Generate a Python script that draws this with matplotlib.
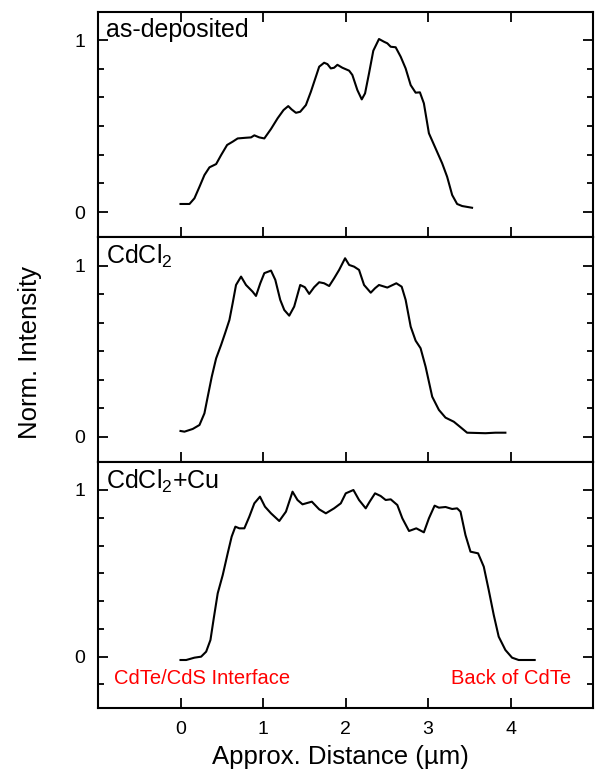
import matplotlib
matplotlib.use("Agg")
import matplotlib.pyplot as plt
from matplotlib.ticker import MultipleLocator, FixedLocator

plt.rcParams['font.family'] = ['Liberation Sans', 'DejaVu Sans']
plt.rcParams['mathtext.fontset'] = 'custom'
plt.rcParams['mathtext.rm'] = 'Liberation Sans'
plt.rcParams['mathtext.it'] = 'Liberation Sans'

# as-deposited profile
x_asdep = [0.000, 0.109, 0.169, 0.230, 0.290, 0.351, 0.432, 0.492, 0.565, 0.632,
           0.693, 0.794, 0.855, 0.895, 0.955, 1.016, 1.097, 1.177, 1.249, 1.306,
           1.346, 1.399, 1.451, 1.520, 1.580, 1.641, 1.681, 1.741, 1.781, 1.822,
           1.862, 1.902, 1.962, 2.044, 2.083, 2.144, 2.197, 2.237, 2.285, 2.337,
           2.406, 2.467, 2.507, 2.548, 2.608, 2.669, 2.729, 2.790, 2.850, 2.902,
           2.950, 3.011, 3.092, 3.172, 3.232, 3.293, 3.353, 3.414, 3.534]
y_asdep = [0.047, 0.047, 0.080, 0.147, 0.215, 0.260, 0.279, 0.331, 0.390, 0.409,
           0.428, 0.432, 0.434, 0.446, 0.434, 0.428, 0.483, 0.545, 0.593, 0.616,
           0.597, 0.577, 0.583, 0.622, 0.699, 0.787, 0.845, 0.868, 0.860, 0.835,
           0.839, 0.856, 0.839, 0.822, 0.797, 0.709, 0.655, 0.690, 0.806, 0.938,
           1.006, 0.990, 0.981, 0.961, 0.958, 0.903, 0.835, 0.738, 0.694, 0.696,
           0.632, 0.458, 0.370, 0.283, 0.205, 0.099, 0.047, 0.035, 0.025]

# CdCl2 treated profile
x_cdcl2 = [0.000, 0.048, 0.149, 0.230, 0.290, 0.330, 0.379, 0.432, 0.492, 0.540,
           0.593, 0.632, 0.673, 0.734, 0.794, 0.874, 0.915, 0.967, 1.016, 1.097,
           1.149, 1.209, 1.258, 1.318, 1.378, 1.451, 1.507, 1.560, 1.620, 1.681,
           1.741, 1.802, 1.862, 1.923, 1.995, 2.044, 2.104, 2.164, 2.225, 2.306,
           2.358, 2.406, 2.507, 2.616, 2.681, 2.729, 2.790, 2.850, 2.910, 2.971,
           3.051, 3.132, 3.212, 3.313, 3.394, 3.474, 3.696, 3.817, 3.938]
y_cdcl2 = [0.035, 0.031, 0.047, 0.070, 0.138, 0.235, 0.352, 0.459, 0.537, 0.605,
           0.683, 0.780, 0.887, 0.936, 0.887, 0.848, 0.823, 0.897, 0.956, 0.971,
           0.917, 0.800, 0.741, 0.708, 0.761, 0.887, 0.874, 0.835, 0.874, 0.903,
           0.897, 0.881, 0.926, 0.975, 1.043, 1.004, 0.994, 0.975, 0.887, 0.842,
           0.868, 0.887, 0.872, 0.897, 0.877, 0.800, 0.644, 0.562, 0.518, 0.410,
           0.235, 0.158, 0.113, 0.089, 0.057, 0.025, 0.022, 0.025, 0.025]

# CdCl2 + Cu profile
x_cu = [0.000, 0.069, 0.169, 0.250, 0.311, 0.363, 0.403, 0.451, 0.512, 0.572,
        0.620, 0.665, 0.713, 0.774, 0.834, 0.895, 0.963, 1.024, 1.097, 1.197,
        1.278, 1.358, 1.418, 1.479, 1.592, 1.681, 1.762, 1.862, 1.943, 2.003,
        2.096, 2.164, 2.245, 2.293, 2.358, 2.426, 2.487, 2.548, 2.628, 2.689,
        2.770, 2.858, 2.950, 3.011, 3.080, 3.132, 3.213, 3.293, 3.353, 3.394,
        3.454, 3.515, 3.607, 3.676, 3.736, 3.797, 3.857, 3.938, 4.019, 4.099,
        4.293]
y_cu = [-0.020, -0.020, -0.006, 0.000, 0.030, 0.100, 0.230, 0.380, 0.490, 0.620,
        0.720, 0.780, 0.770, 0.770, 0.840, 0.920, 0.960, 0.900, 0.860, 0.814,
        0.870, 0.990, 0.940, 0.914, 0.930, 0.884, 0.860, 0.890, 0.920, 0.980,
        1.000, 0.940, 0.890, 0.930, 0.980, 0.964, 0.940, 0.944, 0.910, 0.830,
        0.754, 0.770, 0.746, 0.830, 0.906, 0.894, 0.898, 0.886, 0.890, 0.870,
        0.730, 0.630, 0.620, 0.540, 0.400, 0.250, 0.120, 0.040, -0.006, -0.020,
        -0.020]

xticks = [0, 1, 2, 3, 4]
panel_labels = ['as-deposited', 'CdCl$_2$', 'CdCl$_2$+Cu']

W, H = 595, 772
fig = plt.figure(figsize=(W / 100, H / 100), dpi=100)

left, right = 98 / W, 593 / W
# (top px, bottom px) of each panel
bounds = [(12, 237), (237, 462), (462, 708)]
ylims = [(-0.145, 1.163), (-0.146, 1.167), (-0.308, 1.168)]
series = [(x_asdep, y_asdep), (x_cdcl2, y_cdcl2), (x_cu, y_cu)]

axes = []
for i, ((t, b), yl, (xs, ys)) in enumerate(zip(bounds, ylims, series)):
    ax = fig.add_axes([left, 1 - b / H, right - left, (b - t) / H])
    ax.plot(xs, ys, color='black', lw=1.5, solid_joinstyle='round')
    ax.set_xlim(-1, 5)
    ax.set_ylim(*yl)
    ax.xaxis.set_major_locator(FixedLocator(xticks))
    ax.yaxis.set_major_locator(FixedLocator([0, 1]))
    ax.yaxis.set_minor_locator(MultipleLocator(1 / 6))
    ax.tick_params(which='both', direction='in', width=1.3,
                   left=True, right=True, bottom=True, top=(i == 0),
                   labelsize=14, pad=9)
    ax.tick_params(which='major', length=7)
    ax.tick_params(which='minor', length=4.5)
    ax.tick_params(axis='x', which='minor', bottom=False, top=False)
    ax.set_yticklabels(['0', '1'])
    if i < 2:
        ax.tick_params(axis='x', labelbottom=False)
    for s in ax.spines.values():
        s.set_linewidth(1.5)
    ax.annotate(panel_labels[i], xy=(0, 1), xycoords='axes fraction',
                xytext=(5.5, -4.5), textcoords='offset points',
                ha='left', va='top', fontsize=18)
    axes.append(ax)

axes[2].text(-0.81, -0.134, 'CdTe/CdS Interface', color='red', fontsize=14.5,
             ha='left', va='center')
axes[2].text(4.74, -0.134, 'Back of CdTe', color='red', fontsize=14.5,
             ha='right', va='center')

fig.text(30 / W, 1 - 352 / H, 'Norm. Intensity', rotation=90,
         ha='center', va='center', fontsize=18.5)
fig.text(340 / W, 1 - 757 / H, 'Approx. Distance (\u00b5m)',
         ha='center', va='center', fontsize=18.5)

fig.savefig('out.png', dpi=100)
